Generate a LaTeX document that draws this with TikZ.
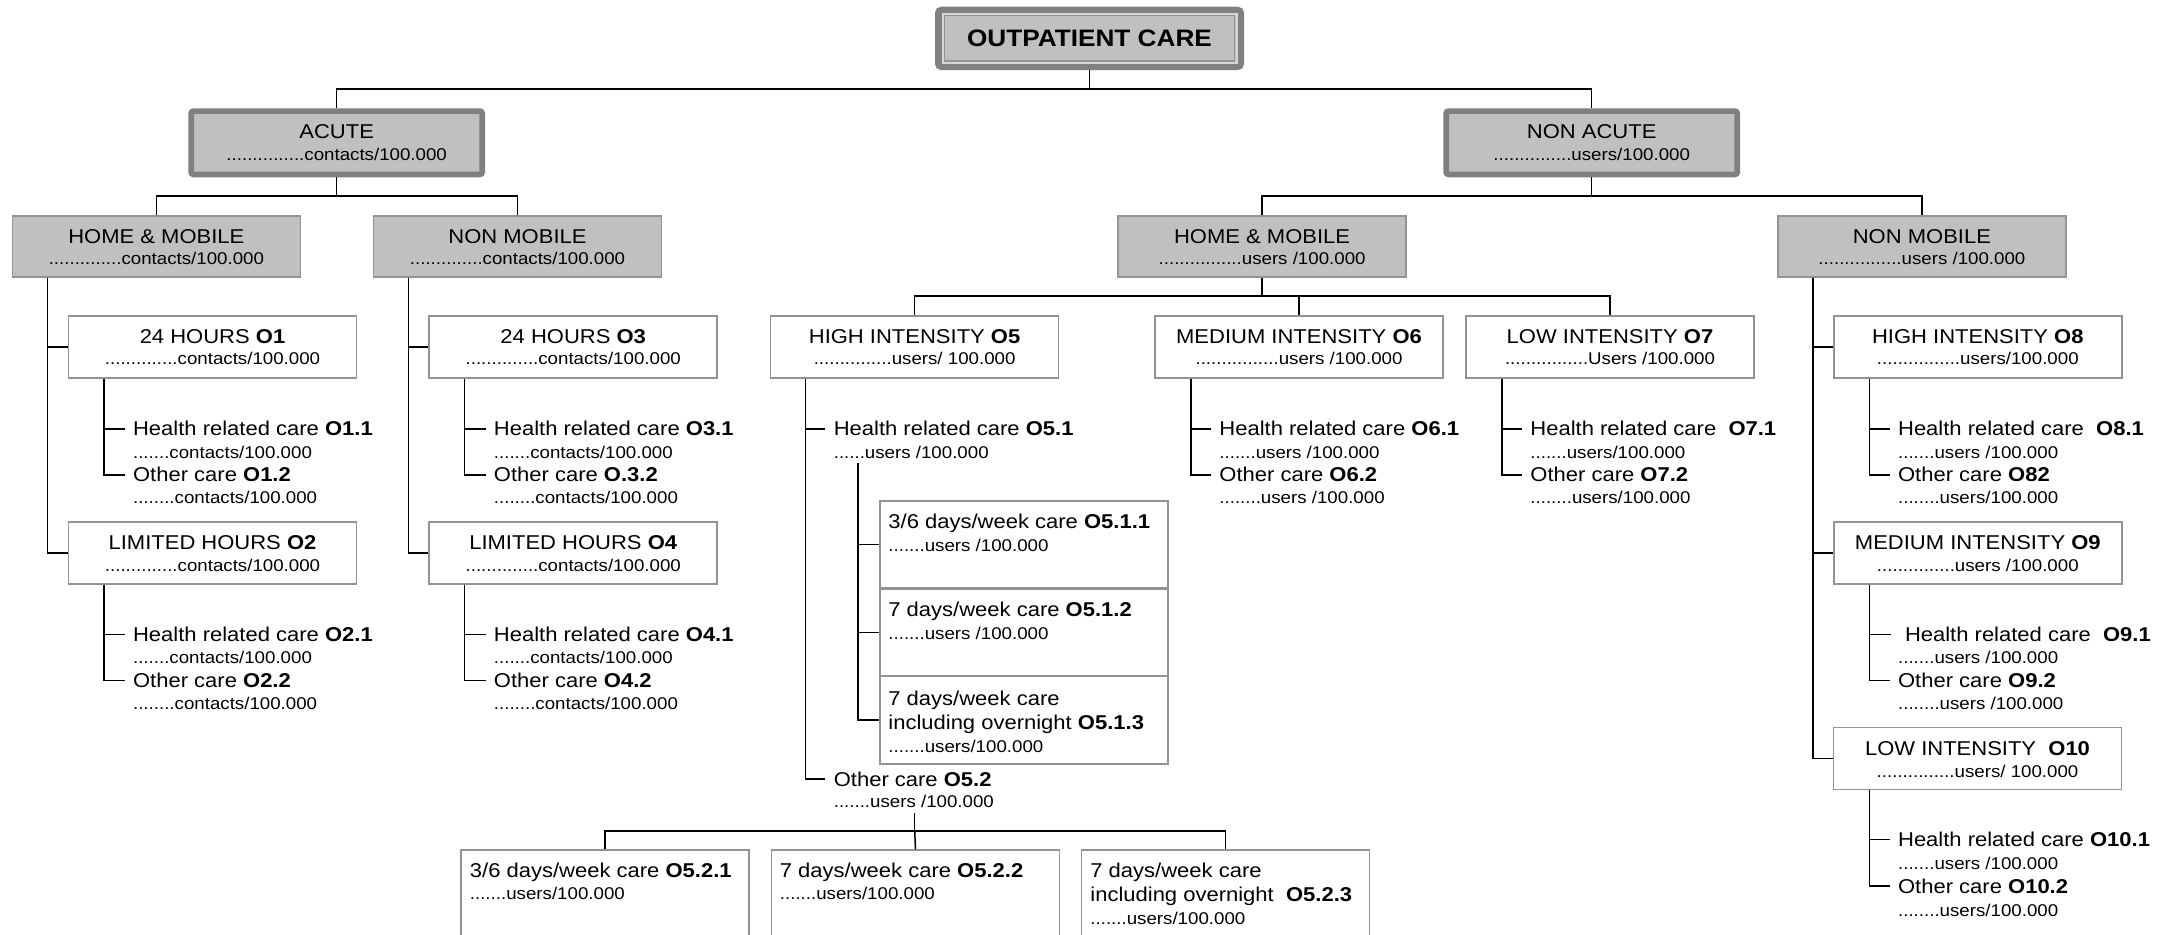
\documentclass[tikz,border=0pt]{standalone}
\usepackage{fontspec}
\setmainfont{Liberation Sans}[FakeStretch=1.1]
\definecolor{boxfill}{HTML}{C0C0C0}
\definecolor{bandgray}{HTML}{808080}
\definecolor{edgegray}{HTML}{939393}
\definecolor{lightband}{HTML}{D6D6D6}
\newcommand{\fntA}{\fontsize{10}{12}\selectfont}
\newcommand{\fntB}{\fontsize{8.5}{10}\selectfont}
\newcommand{\fntT}{\fontsize{11.9}{14}\selectfont\bfseries}
\tikzset{
  conn/.style={draw=black, line width=0.75pt},
  titlebox/.style={draw=bandgray, fill=boxfill, line width=3.5pt, rounded corners=1.5pt,
     minimum width=151pt, minimum height=28.15pt, inner sep=0pt, font=\fntT},
  thickbox/.style={draw=bandgray, fill=boxfill, line width=2.85pt, rounded corners=1.2pt,
     minimum width=145.5pt, minimum height=31.65pt, inner sep=0pt},
  graybox/.style={draw=edgegray, fill=boxfill, line width=0.75pt,
     minimum width=144pt, minimum height=30.5pt, inner sep=0pt},
  thinbox/.style={draw=edgegray, fill=white, line width=0.75pt,
     minimum width=144pt, minimum height=31pt, inner sep=0pt},
  ta/.style={font=\fntA, inner sep=0pt, anchor=base},
  tb/.style={font=\fntB, inner sep=0pt, anchor=base},
  tal/.style={font=\fntA, inner sep=0pt, anchor=base west},
  tbl/.style={font=\fntB, inner sep=0pt, anchor=base west}
}
\begin{document}
\begin{tikzpicture}[x=0.5pt, y=-0.5pt]
\useasboundingbox (0,0) rectangle (2176,935);
\clip (0,0) rectangle (2176,935);

% ---------------- title ----------------
\node[titlebox] (title) at (1089.5,38.4) {OUTPATIENT CARE};
\draw[lightband, line width=1pt] ([shift={(7.5,7)}]title.north west) rectangle ([shift={(-7.5,-7)}]title.south east);
\draw[edgegray, line width=0.6pt] ([shift={(9.5,9)}]title.north west) rectangle ([shift={(-9.5,-9)}]title.south east);

% ---------------- level 1 ----------------
\node[thickbox] (acute) at (336.65,142.8) {};
\node[ta] (acutea) at (336.65,139) {ACUTE};
\node[tb] (acuteb) at (336.65,160.7) {...............contacts/100.000};
\node[thickbox] (nonacute) at (1591.7,142.8) {};
\node[ta] (nonacutea) at (1591.7,139) {NON ACUTE};
\node[tb] (nonacuteb) at (1591.7,160.7) {...............users/100.000};

\coordinate (j0) at (1089.5,89);
\draw[conn] (title.south) -- (j0);
\draw[conn] (acute.north) |- (j0) -| (nonacute.north);

% ---------------- level 2 ----------------
\node[graybox] (hm1) at (156.35,246.5) {};
\node[ta] (hm1a) at (156.35,243.3) {HOME \& MOBILE};
\node[tb] (hm1b) at (156.35,265) {..............contacts/100.000};
\node[graybox] (nm1) at (517.5,246.5) {};
\node[ta] (nm1a) at (517.5,243.3) {NON MOBILE};
\node[tb] (nm1b) at (517.5,265) {..............contacts/100.000};
\node[graybox] (hm2) at (1262.1,246.5) {};
\node[ta] (hm2a) at (1262.1,243.3) {HOME \& MOBILE};
\node[tb] (hm2b) at (1262.1,265) {................users /100.000};
\node[graybox] (nm2) at (1921.9,246.5) {};
\node[ta] (nm2a) at (1921.9,243.3) {NON MOBILE};
\node[tb] (nm2b) at (1921.9,265) {................users /100.000};

\coordinate (ja) at (336.65,196);
\draw[conn] (acute.south) -- (ja);
\draw[conn] (hm1.north) |- (ja) -| (nm1.north);
\coordinate (jn) at (1591.7,196);
\draw[conn] (nonacute.south) -- (jn);
\draw[conn] (hm2.north) |- (jn) -| (nm2.north);

% ---------------- acute / home & mobile ----------------
\node[thinbox] (o1) at (212.5,347) {};
\node[ta] (o1a) at (212.5,343.3) {24 HOURS \textbf{O1}};
\node[tb] (o1b) at (212.5,365) {..............contacts/100.000};
\node[tal] (o11a) at (132.7,436) {Health related care \textbf{O1.1}};
\node[tbl] (o11b) at (132.7,458.3) {.......contacts/100.000};
\node[tal] (o12a) at (132.7,482) {Other care \textbf{O1.2}};
\node[tbl] (o12b) at (132.7,504) {........contacts/100.000};
\node[thinbox] (o2) at (212.5,553) {};
\node[ta] (o2a) at (212.5,549.3) {LIMITED HOURS \textbf{O2}};
\node[tb] (o2b) at (212.5,571.7) {..............contacts/100.000};
\node[tal] (o21a) at (132.7,641.7) {Health related care \textbf{O2.1}};
\node[tbl] (o21b) at (132.7,664) {.......contacts/100.000};
\node[tal] (o22a) at (132.7,687.7) {Other care \textbf{O2.2}};
\node[tbl] (o22b) at (132.7,710) {........contacts/100.000};

\coordinate (v1) at (47.5,0);
\draw[conn] (hm1.south -| v1) |- (o1.west);
\draw[conn] (hm1.south -| v1) |- (o2.west);
\coordinate (s1) at (103.8,0);
\draw[conn] (o1.south -| s1) |- ([shift={(-8,0)}]o11a.west);
\draw[conn] (o1.south -| s1) |- ([shift={(-8,0)}]o12a.west);
\draw[conn] (o2.south -| s1) |- ([shift={(-8,0)}]o21a.west);
\draw[conn] (o2.south -| s1) |- ([shift={(-8,0)}]o22a.west);

% ---------------- acute / non mobile ----------------
\node[thinbox] (o3) at (573.2,347) {};
\node[ta] (o3a) at (573.2,343.3) {24 HOURS \textbf{O3}};
\node[tb] (o3b) at (573.2,365) {..............contacts/100.000};
\node[tal] (o31a) at (493.5,436) {Health related care \textbf{O3.1}};
\node[tbl] (o31b) at (493.5,458.3) {.......contacts/100.000};
\node[tal] (o32a) at (493.5,482) {Other care \textbf{O.3.2}};
\node[tbl] (o32b) at (493.5,504) {........contacts/100.000};
\node[thinbox] (o4) at (573.2,553) {};
\node[ta] (o4a) at (573.2,549.3) {LIMITED HOURS \textbf{O4}};
\node[tb] (o4b) at (573.2,571.7) {..............contacts/100.000};
\node[tal] (o41a) at (493.5,641.7) {Health related care \textbf{O4.1}};
\node[tbl] (o41b) at (493.5,664) {.......contacts/100.000};
\node[tal] (o42a) at (493.5,687.7) {Other care \textbf{O4.2}};
\node[tbl] (o42b) at (493.5,710) {........contacts/100.000};

\coordinate (v2) at (408.7,0);
\draw[conn] (nm1.south -| v2) |- (o3.west);
\draw[conn] (nm1.south -| v2) |- (o4.west);
\coordinate (s2) at (464.6,0);
\draw[conn] (o3.south -| s2) |- ([shift={(-8,0)}]o31a.west);
\draw[conn] (o3.south -| s2) |- ([shift={(-8,0)}]o32a.west);
\draw[conn] (o4.south -| s2) |- ([shift={(-8,0)}]o41a.west);
\draw[conn] (o4.south -| s2) |- ([shift={(-8,0)}]o42a.west);

% ---------------- non acute / home & mobile ----------------
\node[thinbox] (o5) at (914.6,347) {};
\node[ta] (o5a) at (914.6,343.3) {HIGH INTENSITY \textbf{O5}};
\node[tb] (o5b) at (914.6,365) {...............users/ 100.000};
\node[thinbox] (o6) at (1299,347) {};
\node[ta] (o6a) at (1299,343.3) {MEDIUM INTENSITY \textbf{O6}};
\node[tb] (o6b) at (1299,365) {................users /100.000};
\node[thinbox] (o7) at (1610,347) {};
\node[ta] (o7a) at (1610,343.3) {LOW INTENSITY \textbf{O7}};
\node[tb] (o7b) at (1610,365) {................Users /100.000};

\coordinate (j2) at (1262.1,296);
\draw[conn] (hm2.south) -- (j2);
\draw[conn] (o5.north) |- (j2) -| (o7.north);
\draw[conn] (j2 -| o6.north) -- (o6.north);

% O5 branch
\node[tal] (o51a) at (833.4,436) {Health related care \textbf{O5.1}};
\node[tbl] (o51b) at (833.4,458.3) {......users /100.000};
\node[tal] (o52a) at (833.4,786) {Other care \textbf{O5.2}};
\node[tbl] (o52b) at (833.4,807.3) {.......users /100.000};
\coordinate (v5) at (805.4,0);
\draw[conn] (o5.south -| v5) |- ([shift={(-8,0)}]o51a.west);
\draw[conn] (o5.south -| v5) |- ([shift={(-8,0)}]o52a.west);

\node[thinbox, minimum height=43.5pt] (o511) at (1023.8,544.5) {};
\node[tal] (o511a) at (888,528.3) {3/6 days/week care \textbf{O5.1.1}};
\node[tbl] (o511b) at (888,551.7) {.......users /100.000};
\node[thinbox, minimum height=43.5pt] (o512) at (1023.8,632.5) {};
\node[tal] (o512a) at (888,616.7) {7 days/week care \textbf{O5.1.2}};
\node[tbl] (o512b) at (888,639.3) {.......users /100.000};
\node[thinbox, minimum height=44pt] (o513) at (1023.8,720) {};
\node[tal] (o513a) at (888,705) {7 days/week care};
\node[tal] (o513c) at (888,729.3) {including overnight \textbf{O5.1.3}};
\node[tbl] (o513b) at (888,752.7) {.......users/100.000};

\coordinate (s5) at (858,0);
\coordinate (o51c) at ([shift={(0,4.5)}]o51b.south);
\draw[conn] (o51c -| s5) |- (o511.west);
\draw[conn] (o51c -| s5) |- (o512.west);
\draw[conn] (o51c -| s5) |- (o513.west);

\node[thinbox, minimum height=75pt] (o521) at (604.8,925) {};
\node[tal] (o521a) at (469.5,877.3) {3/6 days/week care \textbf{O5.2.1}};
\node[tbl] (o521b) at (469.5,899.3) {.......users/100.000};
\node[thinbox, minimum height=75pt] (o522) at (915.5,925) {};
\node[tal] (o522a) at (779.5,877.3) {7 days/week care \textbf{O5.2.2}};
\node[tbl] (o522b) at (779.5,899.3) {.......users/100.000};
\node[thinbox, minimum height=75pt] (o523) at (1225.6,925) {};
\node[tal] (o523a) at (1090,877.3) {7 days/week care};
\node[tal] (o523c) at (1090,901.7) {including overnight\ \ \textbf{O5.2.3}};
\node[tbl] (o523b) at (1090,924) {.......users/100.000};

\coordinate (j52) at (914.7,831);
\coordinate (o52c) at ([shift={(0,5)}]o52b.south);
\draw[conn] (o52c -| j52) -- (j52);
\draw[conn] (o521.north) |- (j52) -| (o523.north);
\draw[conn] (j52) -- (o522.north);

% O6 branch
\node[tal] (o61a) at (1219,436) {Health related care \textbf{O6.1}};
\node[tbl] (o61b) at (1219,458.3) {.......users /100.000};
\node[tal] (o62a) at (1219,482) {Other care \textbf{O6.2}};
\node[tbl] (o62b) at (1219,504) {........users /100.000};
\coordinate (s6) at (1191,0);
\draw[conn] (o6.south -| s6) |- ([shift={(-8,0)}]o61a.west);
\draw[conn] (o6.south -| s6) |- ([shift={(-8,0)}]o62a.west);

% O7 branch
\node[tal] (o71a) at (1530,436) {Health related care\ \ \textbf{O7.1}};
\node[tbl] (o71b) at (1530,458.3) {.......users/100.000};
\node[tal] (o72a) at (1530,482) {Other care \textbf{O7.2}};
\node[tbl] (o72b) at (1530,504) {........users/100.000};
\coordinate (s7) at (1502,0);
\draw[conn] (o7.south -| s7) |- ([shift={(-8,0)}]o71a.west);
\draw[conn] (o7.south -| s7) |- ([shift={(-8,0)}]o72a.west);

% ---------------- non acute / non mobile ----------------
\node[thinbox] (o8) at (1977.8,347) {};
\node[ta] (o8a) at (1977.8,343.3) {HIGH INTENSITY \textbf{O8}};
\node[tb] (o8b) at (1977.8,365) {................users/100.000};
\node[tal] (o81a) at (1897.7,436) {Health related care\ \ \textbf{O8.1}};
\node[tbl] (o81b) at (1897.7,458.3) {.......users /100.000};
\node[tal] (o82a) at (1897.7,482) {Other care \textbf{O82}};
\node[tbl] (o82b) at (1897.7,504) {........users/100.000};

\node[thinbox] (o9) at (1977.8,553) {};
\node[ta] (o9a) at (1977.8,549.3) {MEDIUM INTENSITY \textbf{O9}};
\node[tb] (o9b) at (1977.8,571.7) {...............users /100.000};
\node[tal] (o91a) at (1904.6,641.7) {Health related care\ \ \textbf{O9.1}};
\node[tbl] (o91b) at (1897.7,664) {.......users /100.000};
\node[tal] (o92a) at (1897.7,687.7) {Other care \textbf{O9.2}};
\node[tbl] (o92b) at (1897.7,710) {........users /100.000};

\node[thinbox] (o10) at (1977.5,758.7) {};
\node[ta] (o10a) at (1977.5,755) {LOW INTENSITY\ \ \textbf{O10}};
\node[tb] (o10b) at (1977.5,777.3) {...............users/ 100.000};
\node[tal] (o101a) at (1897.7,846.7) {Health related care \textbf{O10.1}};
\node[tbl] (o101b) at (1897.7,869) {.......users /100.000};
\node[tal] (o102a) at (1897.7,893.3) {Other care \textbf{O10.2}};
\node[tbl] (o102b) at (1897.7,916) {........users/100.000};

\coordinate (v8) at (1813,0);
\draw[conn] (nm2.south -| v8) |- (o8.west);
\draw[conn] (nm2.south -| v8) |- (o9.west);
\draw[conn] (nm2.south -| v8) |- (o10.west);
\coordinate (s8) at (1869.4,0);
\draw[conn] (o8.south -| s8) |- ([shift={(-8,0)}]o81a.west);
\draw[conn] (o8.south -| s8) |- ([shift={(-8,0)}]o82a.west);
\draw[conn] (o9.south -| s8) |- ([shift={(-14,0)}]o91a.west);
\draw[conn] (o9.south -| s8) |- ([shift={(-8,0)}]o92a.west);
\draw[conn] (o10.south -| s8) |- ([shift={(-8,0)}]o101a.west);
\draw[conn] (o10.south -| s8) |- ([shift={(-8,0)}]o102a.west);
\end{tikzpicture}
\end{document}
